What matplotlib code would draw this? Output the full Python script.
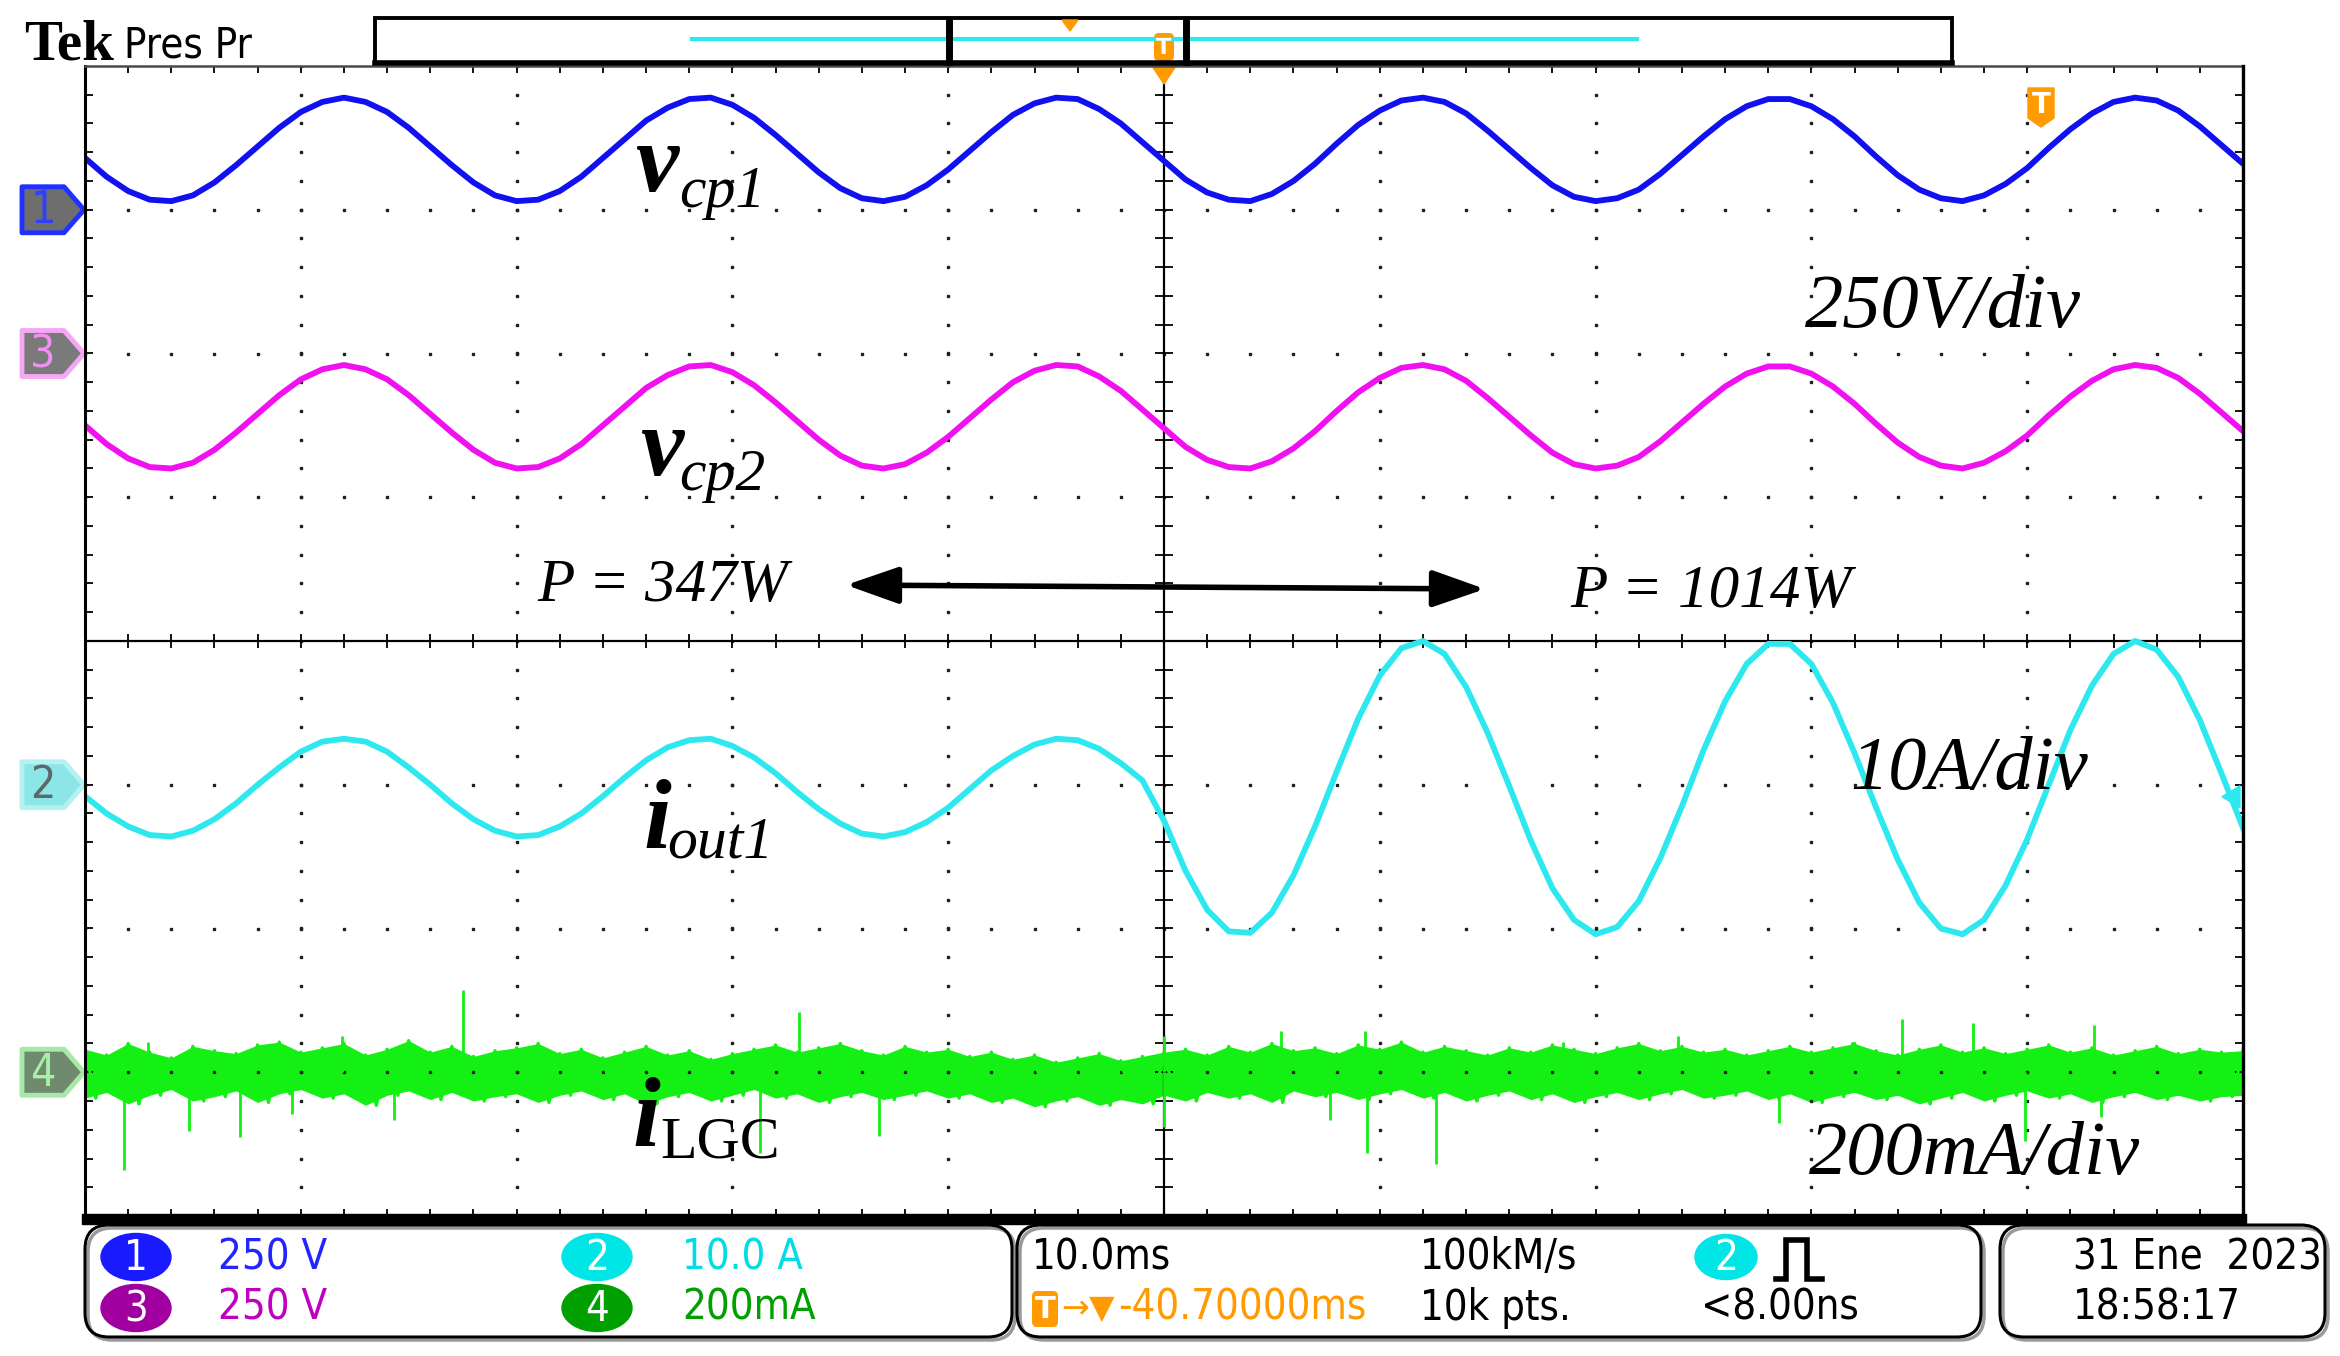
import numpy as np
import matplotlib
matplotlib.use('Agg')
import matplotlib.pyplot as plt
from matplotlib import font_manager
from matplotlib.patches import Polygon, Ellipse, FancyBboxPatch, Rectangle

#%% Data : trace positions in screen divisions, 10 ms/div, 1 sample per ms

t_ms = np.arange(0, 101, 1.0)

vcp1 = [3.36, 3.23, 3.13, 3.07, 3.06, 3.10, 3.19, 3.31, 3.44, 3.57,
        3.68, 3.75, 3.78, 3.75, 3.68, 3.57, 3.44, 3.31, 3.19, 3.10,
        3.06, 3.07, 3.13, 3.23, 3.36, 3.49, 3.62, 3.71, 3.77, 3.78,
        3.73, 3.64, 3.52, 3.39, 3.26, 3.15, 3.08, 3.06, 3.09, 3.17,
        3.28, 3.41, 3.54, 3.66, 3.74, 3.78, 3.77, 3.70, 3.60, 3.47,
        3.34, 3.21, 3.12, 3.07, 3.06, 3.11, 3.20, 3.32, 3.46, 3.59,
        3.69, 3.76, 3.78, 3.75, 3.67, 3.55, 3.42, 3.29, 3.17, 3.09,
        3.06, 3.08, 3.14, 3.25, 3.38, 3.51, 3.63, 3.72, 3.77, 3.77,
        3.72, 3.63, 3.51, 3.37, 3.24, 3.14, 3.08, 3.06, 3.10, 3.18,
        3.29, 3.43, 3.56, 3.67, 3.75, 3.78, 3.76, 3.69, 3.58, 3.45,
        3.32]

vcp2 = [1.50, 1.37, 1.27, 1.21, 1.20, 1.24, 1.33, 1.45, 1.58, 1.71,
        1.82, 1.89, 1.92, 1.89, 1.82, 1.71, 1.58, 1.45, 1.33, 1.24,
        1.20, 1.21, 1.27, 1.37, 1.50, 1.63, 1.76, 1.85, 1.91, 1.92,
        1.87, 1.78, 1.66, 1.53, 1.40, 1.29, 1.22, 1.20, 1.23, 1.31,
        1.42, 1.55, 1.68, 1.80, 1.88, 1.92, 1.91, 1.84, 1.74, 1.61,
        1.48, 1.35, 1.26, 1.21, 1.20, 1.25, 1.34, 1.46, 1.60, 1.73,
        1.83, 1.90, 1.92, 1.89, 1.81, 1.69, 1.56, 1.43, 1.31, 1.23,
        1.20, 1.22, 1.28, 1.39, 1.52, 1.65, 1.77, 1.86, 1.91, 1.91,
        1.86, 1.77, 1.65, 1.51, 1.38, 1.28, 1.22, 1.20, 1.24, 1.32,
        1.43, 1.57, 1.70, 1.81, 1.89, 1.92, 1.90, 1.83, 1.72, 1.59,
        1.46]

iout1 = [-1.08, -1.20, -1.29, -1.35, -1.36, -1.32, -1.24, -1.13, -1.00, -0.88,
         -0.77, -0.70, -0.68, -0.70, -0.77, -0.88, -1.00, -1.13, -1.24, -1.32,
         -1.36, -1.35, -1.29, -1.20, -1.08, -0.95, -0.83, -0.74, -0.69, -0.68,
         -0.73, -0.81, -0.92, -1.05, -1.17, -1.27, -1.34, -1.36, -1.33, -1.26,
         -1.16, -1.03, -0.90, -0.80, -0.72, -0.68, -0.69, -0.75, -0.85, -0.97,
         -1.25, -1.60, -1.87, -2.02, -2.03, -1.89, -1.63, -1.29, -0.91, -0.54,
         -0.24, -0.05, 0.00, -0.09, -0.32, -0.64, -1.01, -1.39, -1.72, -1.94,
         -2.04, -1.99, -1.81, -1.51, -1.15, -0.76, -0.42, -0.16, -0.02, -0.02,
         -0.16, -0.43, -0.78, -1.16, -1.52, -1.82, -2.00, -2.04, -1.94, -1.70,
         -1.38, -1.00, -0.62, -0.31, -0.09, 0.00, -0.06, -0.25, -0.55, -0.92,
         -1.30]

# i_LGC noise band: upper / lower edge of the trace
ilgc_hi = [-2.84, -2.88, -2.80, -2.86, -2.90, -2.82, -2.85, -2.87, -2.81, -2.79,
           -2.86, -2.83, -2.80, -2.88, -2.84, -2.78, -2.86, -2.82, -2.89, -2.85,
           -2.83, -2.80, -2.87, -2.84, -2.90, -2.86, -2.82, -2.88, -2.85, -2.91,
           -2.87, -2.84, -2.81, -2.86, -2.83, -2.80, -2.85, -2.88, -2.82, -2.86,
           -2.84, -2.89, -2.86, -2.91, -2.88, -2.93, -2.90, -2.87, -2.92, -2.89,
           -2.86, -2.84, -2.88, -2.82, -2.86, -2.80, -2.85, -2.83, -2.87, -2.81,
           -2.84, -2.79, -2.86, -2.82, -2.85, -2.88, -2.83, -2.86, -2.81, -2.84,
           -2.87, -2.83, -2.80, -2.85, -2.82, -2.86, -2.84, -2.88, -2.85, -2.82,
           -2.86, -2.83, -2.80, -2.85, -2.88, -2.84, -2.81, -2.86, -2.83, -2.87,
           -2.84, -2.81, -2.86, -2.83, -2.88, -2.85, -2.82, -2.87, -2.84, -2.86,
           -2.85]
ilgc_lo = [-3.18, -3.14, -3.22, -3.16, -3.12, -3.20, -3.17, -3.13, -3.21, -3.15,
           -3.12, -3.18, -3.15, -3.23, -3.16, -3.13, -3.19, -3.14, -3.20, -3.17,
           -3.15, -3.21, -3.16, -3.13, -3.19, -3.15, -3.22, -3.17, -3.14, -3.20,
           -3.16, -3.12, -3.18, -3.15, -3.21, -3.17, -3.14, -3.19, -3.16, -3.13,
           -3.18, -3.15, -3.21, -3.18, -3.24, -3.20, -3.17, -3.23, -3.19, -3.22,
           -3.16, -3.20, -3.14, -3.18, -3.15, -3.21, -3.13, -3.17, -3.14, -3.19,
           -3.15, -3.12, -3.18, -3.14, -3.20, -3.16, -3.13, -3.19, -3.15, -3.21,
           -3.17, -3.14, -3.19, -3.15, -3.12, -3.18, -3.16, -3.13, -3.19, -3.15,
           -3.21, -3.17, -3.14, -3.19, -3.16, -3.22, -3.18, -3.14, -3.20, -3.16,
           -3.13, -3.18, -3.15, -3.21, -3.17, -3.14, -3.19, -3.16, -3.20, -3.17,
           -3.16]
spike_t = [1.8, 2.9, 4.8, 7.2, 9.6, 11.9, 14.3, 17.5, 31.3, 33.1, 36.8, 50.0, 50.0,
           55.4, 57.7, 59.3, 59.4, 62.6, 68.5, 73.8, 78.5, 81.9, 84.2, 87.5, 89.9,
           93.1, 93.4]
spike_y = [-3.68, -2.79, -3.41, -3.45, -3.29, -2.75, -3.33, -2.43, -3.56, -2.58,
           -3.44, -2.75, -3.38, -2.71, -3.33, -2.71, -3.56, -3.64, -2.79, -2.75,
           -3.35, -2.79, -2.63, -2.66, -3.48, -2.67, -3.31]

ch_level = {'1': 3, '3': 2, '2': -1, '4': -3}   # ground markers (div)

#%% Fonts : narrow sans for the scope read-outs

fl = font_manager.fontManager.ttflist
names = {f.name for f in fl}
ui_stretch = 'normal'
if 'Liberation Sans Narrow' in names:
    ui, ufs = ['Liberation Sans Narrow', 'DejaVu Sans'], 31
elif any(f.name == 'DejaVu Sans' and f.stretch == 'condensed' for f in fl):
    ui, ufs, ui_stretch = ['DejaVu Sans'], 30, 'condensed'
else:
    ui, ufs = ['Liberation Sans', 'DejaVu Sans'], 28
serif = 'Liberation Serif'

#%% Figure

W, H = 2340, 1356
X0, X1, Y0, Y1 = 85, 2243, 66, 1216      # screen in pixels

c_blue, c_mag, c_cyan, c_green = '#1010f0', '#f010f0', '#2ee8f0', '#14f014'
c_orange = '#ff9a00'

fig = plt.figure(figsize=(W / 100, H / 100), dpi=100)
fig.patch.set_facecolor('white')

ax = fig.add_axes([X0 / W, 1 - Y1 / H, (X1 - X0) / W, (Y1 - Y0) / H])
ax.set_xlim(0, 100)
ax.set_ylim(-4, 4)
ax.axis('off')

# graticule
xminor = np.arange(0, 100.01, 2)
yminor = np.arange(-4, 4.01, 0.2)
for xv in range(10, 100, 10):
    if xv != 50:
        ax.plot(np.full(len(yminor), xv), yminor, ls='none', marker='s', ms=2, color='#202020')
for yv in [-3, -2, -1, 1, 2, 3]:
    ax.plot(xminor, np.full(len(xminor), yv), ls='none', marker='s', ms=2, color='#202020')
ax.axvline(50, color='k', lw=1.6)
ax.axhline(0, color='k', lw=1.6)
ax.vlines(xminor, -0.05, 0.05, color='k', lw=1.3)
ax.hlines(yminor, 49.6, 50.4, color='k', lw=1.3)
ax.vlines(xminor, 3.95, 4, color='k', lw=1.3)
ax.vlines(xminor, -4, -3.95, color='k', lw=1.3)
ax.hlines(yminor, 0, 0.35, color='k', lw=1.3)
ax.hlines(yminor, 99.65, 100, color='k', lw=1.3)

# traces
ax.plot(t_ms, vcp1, color=c_blue, lw=4.2)
ax.plot(t_ms, vcp2, color=c_mag, lw=4.2)
ax.plot(t_ms, iout1, color=c_cyan, lw=4.2)
ax.fill_between(t_ms, ilgc_hi, ilgc_lo, color=c_green, lw=0)
gx = np.ravel(np.column_stack([t_ms, t_ms + 0.5]))[:-1]
gy = np.ravel(np.column_stack([ilgc_hi, ilgc_lo]))[:-1]
ax.plot(gx, gy, color=c_green, lw=2.4)
ax.vlines(spike_t, -3.0, spike_y, color=c_green, lw=2)

#%% Overlay in pixel coordinates

ov = fig.add_axes([0, 0, 1, 1], facecolor='none')
ov.set_xlim(0, W)
ov.set_ylim(H, 0)
ov.axis('off')

def ypx(lvl):
    return Y0 + (4 - lvl) * (Y1 - Y0) / 8.

def utext(x, y, s, color='k', **kw):
    kw.setdefault('fontsize', ufs)
    kw.setdefault('va', 'center')
    ov.text(x, y, s, color=color, family=ui, fontstretch=ui_stretch, **kw)

# screen frame
ov.plot([X0, X0], [Y0, Y1], color='k', lw=2.2)
ov.plot([X0, X1], [Y0, Y0], color='#4a4a4a', lw=1.8)
ov.plot([X1, X1], [Y0, Y1], color='k', lw=2.4)
ov.add_patch(Rectangle((X0 - 3, Y1 - 2), X1 - X0 + 6, 10, color='k'))

# header
ov.text(24, 60, 'Tek', family=serif, fontweight='bold', fontsize=41, va='baseline')
utext(124, 57, 'Pres Pr', va='baseline', fontsize=ufs)
ov.add_patch(Rectangle((375, 18), 1577, 45, fill=False, ec='k', lw=2.8))
ov.plot([375, 1952], [63, 63], color='k', lw=4)
ov.plot([692, 1637], [39, 39], color=c_cyan, lw=3)
ov.plot([949, 949], [20, 62], color='k', lw=5)
ov.plot([1186, 1186], [20, 62], color='k', lw=5)
ov.add_patch(Polygon([(1062, 20), (1078, 20), (1070, 31)], color=c_orange))
ov.add_patch(FancyBboxPatch((1154, 33), 20, 28, boxstyle='round,pad=0,rounding_size=5',
                            fc=c_orange, ec='none'))
ov.text(1164, 48, 'T', color='white', fontsize=16, fontweight='bold', ha='center', va='center')
ov.add_patch(Polygon([(1152, 66), (1176, 66), (1164, 84)], color=c_orange))
ov.add_patch(Polygon([(2028, 88), (2054, 88), (2054, 118), (2041, 127), (2028, 118)],
                     fc=c_orange, ec=c_orange, lw=1, joinstyle='round'))
ov.text(2041, 105, 'T', color='white', fontsize=20, fontweight='bold', ha='center', va='center')

# channel markers
marks = [('1', '#6e6e6e', '#2030ff', '#3040ff'),
         ('3', '#7a7a7a', '#f4a8f4', '#f090f0'),
         ('2', '#8ce6e8', '#b4f2f2', '#5a6a6a'),
         ('4', '#6f8a6f', '#a8e8a8', '#a8f0a8')]
for num, face, edge, tcol in marks:
    yc = ypx(ch_level[num])
    pts = [(22, yc - 23), (64, yc - 23), (84, yc), (64, yc + 23), (22, yc + 23)]
    ov.add_patch(Polygon(pts, closed=True, fc=face, ec=edge, lw=3.5, joinstyle='round'))
    utext(43, yc + 1, num, color=tcol, fontsize=32, ha='center')
yc = ypx(ch_level['2']) + 12
ov.add_patch(Polygon([(2222, yc), (2240, yc - 11), (2240, yc + 11)], color=c_cyan))

# trace labels
lab = dict(family=serif, va='baseline')
ov.text(635, 191, 'v', fontsize=70, style='italic', fontweight='bold', **lab)
ov.text(679, 207, 'cp1', fontsize=43, style='italic', **lab)
ov.text(640, 475, 'v', fontsize=70, style='italic', fontweight='bold', **lab)
ov.text(679, 490, 'cp2', fontsize=43, style='italic', **lab)
ov.text(643, 848, 'i', fontsize=72, style='italic', fontweight='bold', **lab)
ov.text(667, 858, 'out1', fontsize=43, style='italic', **lab)
ov.text(632, 1146, 'i', fontsize=72, style='italic', fontweight='bold', **lab)
ov.text(660, 1158, 'LGC', fontsize=43, **lab)

ov.text(1805, 327, '250V/div', fontsize=55, style='italic', **lab)
ov.text(1850, 789, '10A/div', fontsize=55, style='italic', **lab)
ov.text(1809, 1174, '200mA/div', fontsize=55, style='italic', **lab)
ov.text(537, 601, 'P = 347W', fontsize=44, style='italic', **lab)
ov.text(1570, 607, 'P = 1014W', fontsize=44, style='italic', **lab)
ov.annotate('', xy=(846, 585), xytext=(1485, 589),
            arrowprops=dict(arrowstyle='<|-|>,head_length=1.2,head_width=0.42',
                            lw=4, color='k', mutation_scale=27, shrinkA=0, shrinkB=0))

# bottom read-out panels
r1, r2 = 1257, 1308
for bx, bw in [(85, 927), (1017, 964), (2000, 325)]:
    ov.add_patch(FancyBboxPatch((bx + 3, 1228), bw, 112, boxstyle='round,pad=0,rounding_size=24',
                                fill=False, ec='#9a9a9a', lw=2.5))
    ov.add_patch(FancyBboxPatch((bx, 1225), bw, 112, boxstyle='round,pad=0,rounding_size=24',
                                fill=False, ec='k', lw=2.2))

def badge(x, y, num, color, w=70, h=47):
    ov.add_patch(Ellipse((x, y), w, h, color=color))
    utext(x, y + 1, num, color='white', fontsize=ufs, ha='center')

badge(136, r1, '1', '#1a1aff')
badge(136, r2, '3', '#a000a0')
badge(597, r1, '2', '#00e6e6')
badge(597, r2, '4', '#00a000')
utext(218, r1, '250 V', color='#2424ff')
utext(218, r2, '250 V', color='#c000c0')
utext(682, r1, '10.0 A', color='#00dde6')
utext(682, r2, '200mA', color='#00a000')

utext(1032, r1, '10.0ms')
ov.add_patch(FancyBboxPatch((1032, 1291), 26, 36, boxstyle='round,pad=0,rounding_size=5',
                            fc=c_orange, ec='none'))
ov.text(1045, 1310, 'T', color='white', fontsize=22, fontweight='bold', ha='center', va='center')
ov.text(1061, r2, '\u2192\u25bc', color=c_orange, fontsize=ufs - 6, va='center', family='DejaVu Sans')
utext(1118, r2, '-40.70000ms', color=c_orange)
utext(1420, r1, '100kM/s')
utext(1420, r2, '10k pts.')
badge(1726, r1, '2', '#00e6e6', w=62, h=45)
ov.plot([1776, 1786, 1786, 1807, 1807, 1822], [1279, 1279, 1240, 1240, 1279, 1279],
        color='k', lw=4, solid_joinstyle='miter')
utext(1701, r2, '<8.00ns')
utext(2073, r1, '31 Ene  2023')
utext(2073, r2, '18:58:17')

fig.savefig('out.png', dpi=100)
